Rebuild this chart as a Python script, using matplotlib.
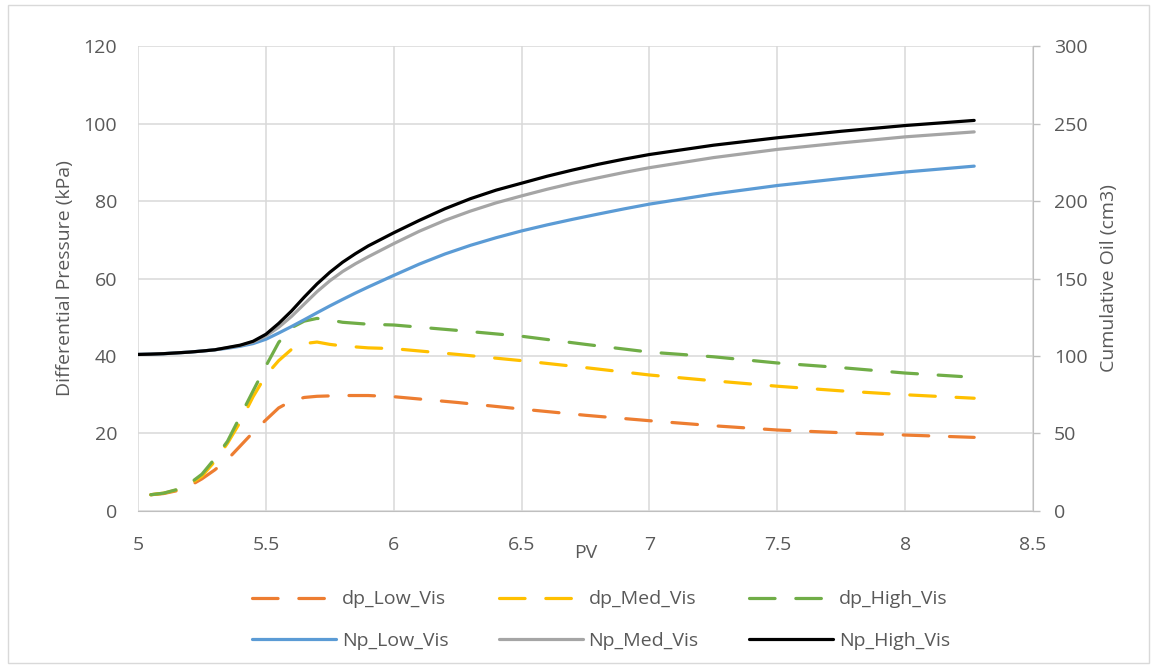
import matplotlib.pyplot as plt
from matplotlib.patches import Rectangle
from matplotlib.ticker import FormatStrFormatter, MultipleLocator

plt.rcParams["font.family"] = ["Open Sans", "DejaVu Sans"]

# pore volumes injected
pv = [5.0, 5.05, 5.1, 5.15, 5.2, 5.25, 5.3, 5.35, 5.4, 5.45, 5.5, 5.55, 5.6,
      5.65, 5.7, 5.75, 5.8, 5.85, 5.9, 6.0, 6.1, 6.2, 6.3, 6.4, 6.5, 6.6,
      6.7, 6.8, 6.9, 7.0, 7.25, 7.5, 7.75, 8.0, 8.27]

# differential pressure (kPa), logged from 5.05 PV
pv_dp = [5.05, 5.1, 5.15, 5.2, 5.25, 5.3, 5.35, 5.4, 5.45, 5.5, 5.55, 5.6,
         5.65, 5.7, 5.75, 5.8, 5.9, 6.0, 6.25, 6.5, 6.75, 7.0, 7.25, 7.5,
         7.75, 8.0, 8.27]
pv_dp_high = pv_dp[:-1] + [8.22]
dp_low = [4.2, 4.5, 5.2, 6.4, 8.3, 10.6, 13.3, 16.8, 20.3, 23.5, 26.6, 28.4,
          29.3, 29.6, 29.7, 29.8, 29.8, 29.5, 28.0, 26.3, 24.7, 23.3, 22.0,
          20.9, 20.2, 19.6, 19.0]
dp_med = [4.2, 4.6, 5.4, 6.8, 9.0, 12.8, 17.5, 23.0, 29.5, 35.0, 38.8, 41.7,
          43.2, 43.6, 43.0, 42.6, 42.1, 41.9, 40.4, 38.8, 37.0, 35.1, 33.6,
          32.2, 31.0, 30.0, 29.1]
dp_high = [4.2, 4.6, 5.5, 7.0, 9.5, 13.5, 18.0, 24.5, 31.0, 37.4, 43.5, 47.3,
           49.0, 49.7, 49.3, 48.7, 48.2, 48.0, 46.6, 45.1, 43.0, 41.0, 39.8,
           38.2, 37.0, 35.6, 34.7]

# cumulative oil produced (cm3)
np_low = [101, 101.2, 101.5, 102, 102.5, 103.2, 104, 105, 106.3, 108, 110.8,
          114.8, 119, 123.4, 127.9, 132.3, 136.5, 140.6, 144.5, 152, 159.3,
          165.8, 171.4, 176.3, 180.7, 184.6, 188.2, 191.6, 194.9, 198, 204.5,
          210, 214.5, 218.7, 222.5]
np_med = [101, 101.2, 101.5, 102, 102.5, 103.2, 104, 105.3, 106.8, 109,
          112.9, 118.5, 125.5, 133.5, 141.5, 148.5, 154.5, 159.5, 164, 172.5,
          180.5, 187.5, 193.5, 198.8, 203.3, 207.6, 211.5, 215, 218.4, 221.5,
          228, 233.3, 237.5, 241.4, 244.6]
np_high = [101, 101.2, 101.5, 102, 102.5, 103.2, 104, 105.5, 107, 109.5, 114,
           121, 129, 138, 146.5, 154, 160.5, 166, 171, 179.5, 187.5, 195,
           201.5, 207, 211.5, 216, 220, 223.7, 227, 230, 236, 240.8, 245,
           248.7, 252]

text_col = "#595959"
grid_col = "#D9D9D9"
axis_col = "#BFBFBF"

fig = plt.figure(figsize=(11.56, 6.67), dpi=100)
ax = fig.add_axes([0.1194, 0.2339, 0.7742, 0.6971])
ax2 = ax.twinx()

dash = dict(linestyle=(0, (8, 6.5)), dash_capstyle="round", lw=2.3)
l1, = ax.plot(pv_dp, dp_low, color="#ED7D31", label="dp_Low_Vis", **dash)
l2, = ax.plot(pv_dp, dp_med, color="#FFC000", label="dp_Med_Vis", **dash)
l3, = ax.plot(pv_dp_high, dp_high, color="#70AD47", label="dp_High_Vis", **dash)

solid = dict(lw=2.3, solid_capstyle="round", solid_joinstyle="round")
l4, = ax2.plot(pv, np_low, color="#5B9BD5", label="Np_Low_Vis", **solid)
l5, = ax2.plot(pv, np_med, color="#A5A5A5", label="Np_Med_Vis", **solid)
l6, = ax2.plot(pv, np_high, color="#000000", label="Np_High_Vis", **solid)

ax.set_xlim(5, 8.5)
ax.set_ylim(0, 120)
ax2.set_ylim(0, 300)
ax.xaxis.set_major_locator(MultipleLocator(0.5))
ax.xaxis.set_major_formatter(FormatStrFormatter("%g"))
ax.yaxis.set_major_locator(MultipleLocator(20))
ax2.yaxis.set_major_locator(MultipleLocator(50))

ax.grid(True, color=grid_col, lw=1.1)
ax.set_axisbelow(True)

for a in (ax, ax2):
    for s in a.spines.values():
        s.set_visible(False)
ax.spines["bottom"].set_visible(True)
ax.spines["bottom"].set_color(axis_col)
ax2.spines["right"].set_visible(True)
ax2.spines["right"].set_color(axis_col)

ax.tick_params(axis="x", length=0, pad=18, labelsize=14, labelcolor=text_col)
ax.tick_params(axis="y", length=0, pad=15, labelsize=14, labelcolor=text_col)
ax2.tick_params(axis="y", length=5, width=1, color=axis_col, pad=10,
                labelsize=14, labelcolor=text_col)

ax.set_xlabel("PV", fontsize=14, color=text_col)
ax.xaxis.set_label_coords(0.5, -0.07)
ax.set_ylabel("Differential Pressure (kPa)", fontsize=14, color=text_col)
ax.yaxis.set_label_coords(-0.071, 0.5)
ax2.set_ylabel("Cumulative Oil (cm3)", fontsize=14, color=text_col)
ax2.yaxis.set_label_coords(1.075, 0.5)

handles = [l1, l4, l2, l5, l3, l6]
leg = fig.legend(handles=handles, loc="center", ncol=3, frameon=False,
                 bbox_to_anchor=(0.52, 1 - 620 / 667), fontsize=14,
                 handlelength=4.3, handletextpad=0.3, columnspacing=2.6,
                 labelspacing=1.2)
for t in leg.get_texts():
    t.set_color(text_col)

fig.patches.append(Rectangle((8 / 1156, 4 / 667), 1141 / 1156, 658 / 667,
                             transform=fig.transFigure, fill=False,
                             edgecolor=grid_col, lw=1))

fig.savefig("out.png", dpi=100)
